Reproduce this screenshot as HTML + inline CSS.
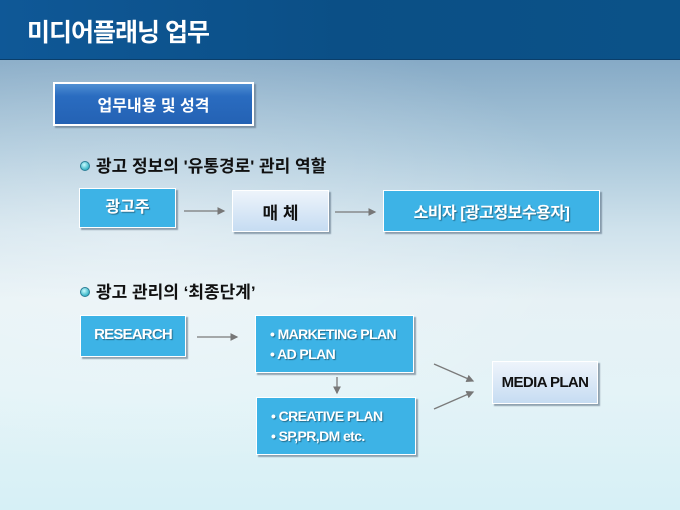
<!DOCTYPE html>
<html><head><meta charset="utf-8"><style>
*{margin:0;padding:0;box-sizing:border-box}
body{width:680px;height:510px;overflow:hidden;position:relative;font-family:"Liberation Sans","Noto Sans CJK KR",sans-serif;
background:linear-gradient(180deg,#86aac6 60px,#a9c7da 150px,#cfe2ec 230px,#e6f1f5 300px,#e4f3f7 390px,#d6f0f6 510px);}
.glow{position:absolute;left:0;top:60px;width:680px;height:450px;background:radial-gradient(ellipse at 20% 40%,rgba(255,255,255,.35),rgba(255,255,255,0) 60%);}
.title{position:absolute;left:0;top:0;width:680px;height:60px;background:linear-gradient(90deg,#0f5897,#0b4f86 50%,#0b5288);border-bottom:1px solid #0a3e6a}
.title span{position:absolute;left:27px;top:13px;color:#fff;font-size:25px;font-weight:bold;letter-spacing:-1px}
.b{position:absolute;display:flex;align-items:center;justify-content:center;font-weight:bold;box-shadow:2px 2px 1px rgba(90,110,130,.6);border:1px solid #fff;white-space:nowrap}
.cy{background:#3db3e6;color:#fff;text-shadow:1px 1px 1px rgba(0,0,0,.4)}
.lt{background:linear-gradient(180deg,#eef4fb,#c6dcf2);color:#111}
.h{position:absolute;font-size:17px;font-weight:bold;color:#111;white-space:nowrap}
.dot{display:inline-block;width:10px;height:10px;border-radius:50%;background:radial-gradient(circle at 40% 35%,#c9fbff,#3bb6c7 70%);border:1px solid #2a7d96;margin-right:6px;vertical-align:1px}
.l{display:block;text-align:left;padding-left:14px;padding-top:8px;line-height:20px;font-size:14px;letter-spacing:-0.6px}
</style></head><body>
<div class="glow"></div>
<div class="title"><span>미디어플래닝 업무</span></div>
<div class="b" style="left:53px;top:82px;width:201px;height:44px;background:linear-gradient(180deg,#4f8fd3,#2a6cc0 30%,#2462b4);color:#fff;font-size:16px;border:2px solid #fff">업무내용 및 성격</div>
<div class="h" style="left:80px;top:152px"><span class="dot"></span>광고 정보의 '유통경로' 관리 역할</div>
<div class="b cy" style="left:79px;top:188px;width:97px;height:40px;font-size:16px;padding-bottom:6px">광고주</div>
<div class="b lt" style="left:232px;top:190px;width:97px;height:42px;font-size:17px">매 체</div>
<div class="b cy" style="left:383px;top:190px;width:217px;height:42px;font-size:16px;letter-spacing:-0.5px">소비자 [광고정보수용자]</div>
<div class="h" style="left:80px;top:278px"><span class="dot"></span>광고 관리의 ‘최종단계’</div>
<div class="b cy" style="left:80px;top:315px;width:106px;height:42px;font-size:15px;letter-spacing:-0.8px;padding-bottom:4px">RESEARCH</div>
<div class="b cy l" style="left:255px;top:315px;width:159px;height:58px">• MARKETING PLAN<br>• AD PLAN</div>
<div class="b cy l" style="left:256px;top:397px;width:160px;height:58px">• CREATIVE PLAN<br>• SP,PR,DM etc.</div>
<div class="b lt" style="left:492px;top:361px;width:106px;height:43px;font-size:15px;letter-spacing:-0.6px">MEDIA PLAN</div>
<svg width="680" height="510" style="position:absolute;left:0;top:0">
<defs><marker id="a" markerWidth="6" markerHeight="6" refX="5" refY="3" orient="auto"><path d="M0,0L6,3L0,6z" fill="#777"/></marker></defs>
<g stroke="#7a7a7a" stroke-width="1.3" marker-end="url(#a)">
<line x1="184" y1="211" x2="224" y2="211"/>
<line x1="335" y1="212" x2="375" y2="212"/>
<line x1="197" y1="337" x2="237" y2="337"/>
<line x1="337" y1="377" x2="337" y2="393"/>
<line x1="434" y1="364" x2="473" y2="381"/>
<line x1="434" y1="409" x2="473" y2="392"/>
</g></svg>
</body></html>
